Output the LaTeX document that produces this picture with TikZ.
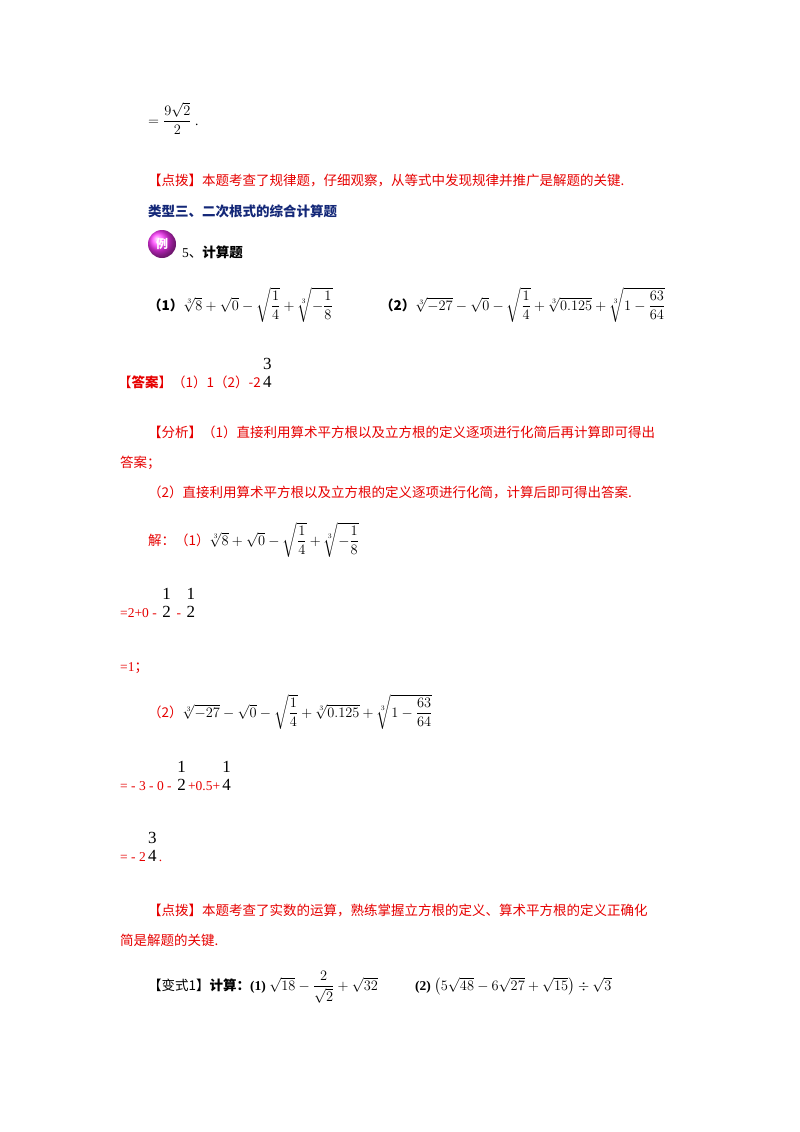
\documentclass[tikz,border=0pt]{standalone}
\usepackage{fontspec}
\usepackage{amsmath}
\setmainfont{Liberation Serif}
\newfontfamily\cjk{Noto Sans CJK SC}
\definecolor{myred}{RGB}{230,0,0}
\definecolor{myblue}{RGB}{20,40,120}
\newcommand{\bfr}[2]{\,\begin{tabular}[b]{@{}c@{}}\fontsize{17pt}{19pt}\selectfont #1\\[2pt]\fontsize{17pt}{17pt}\selectfont #2\end{tabular}\,}
\tikzset{t/.style={anchor=base west,inner sep=0pt,font=\fontsize{13.5pt}{15pt}\selectfont},
r/.style={t,text=myred}}
\begin{document}
\begin{tikzpicture}[x=1pt,y=1pt]
\useasboundingbox (0,0) rectangle (800,-1132);
\node[t] (a1) at (148,-125) {$=\dfrac{9\sqrt{2}}{2}$\ .};
\node[r] (a2) at (148,-185) {\cjk 【点拨】本题考查了规律题，仔细观察，从等式中发现规律并推广是解题的关键.};
\node[t,text=myblue] (a3) at (148,-216) {\cjk\bfseries 类型三、二次根式的综合计算题};
\shade[ball color=magenta!80] (162,-244) circle (14);
\node[text=white,font=\cjk\bfseries\fontsize{12pt}{12pt}\selectfont] (li) at (162,-244) {例};
\node[t] (a4) at (182,-257) {5\cjk 、\bfseries 计算题};
\node[t] (a5) at (148,-310) {\cjk\bfseries（1）$\sqrt[3]{8}+\sqrt{0}-\sqrt{\dfrac14}+\sqrt[3]{-\dfrac18}$};
\node[t] (a6) at (380,-310) {\cjk\bfseries（2）$\sqrt[3]{-27}-\sqrt{0}-\sqrt{\dfrac14}+\sqrt[3]{0.125}+\sqrt[3]{1-\dfrac{63}{64}}$};
\node[r] (a7) at (118,-387) {\cjk 【\bfseries 答案\mdseries 】（1）1（2）-2\color{black}\rmfamily\bfr{3}{4}};
\node[r] (a8) at (148,-437) {\cjk 【分析】（1）直接利用算术平方根以及立方根的定义逐项进行化简后再计算即可得出};
\node[r] (a9) at (120,-467) {\cjk 答案；};
\node[r] (a10) at (148,-497) {\cjk （2）直接利用算术平方根以及立方根的定义逐项进行化简，计算后即可得出答案.};
\node[r] (a11) at (148,-545) {\cjk 解：（1）\color{black}$\sqrt[3]{8}+\sqrt{0}-\sqrt{\dfrac14}+\sqrt[3]{-\dfrac18}$};
\node[r] (a12) at (120,-617) {=2+0 - \color{black}\bfr12\color{myred}\ - \color{black}\bfr12};
\node[r] (a13) at (120,-671) {=1\cjk ；};
\node[r] (a14) at (148,-717) {\cjk （2）\color{black}$\sqrt[3]{-27}-\sqrt{0}-\sqrt{\dfrac14}+\sqrt[3]{0.125}+\sqrt[3]{1-\dfrac{63}{64}}$};
\node[r] (a15) at (120,-790) {= - 3 - 0 - \color{black}\bfr12\color{myred}+0.5+\color{black}\bfr14};
\node[r] (a16) at (120,-861) {= - 2\color{black}\bfr34\color{myred}.};
\node[r] (a17) at (148,-915) {\cjk 【点拨】本题考查了实数的运算，熟练掌握立方根的定义、算术平方根的定义正确化};
\node[r] (a18) at (120,-945) {\cjk 简是解题的关键.};
\node[t] (a19) at (148,-990) {\cjk 【变式1】\bfseries 计算：\rmfamily (1)\ \mdseries$\sqrt{18}-\dfrac{2}{\sqrt2}+\sqrt{32}$};
\node[t] (a20) at (415,-990) {\bfseries (2)\ \mdseries$\left(5\sqrt{48}-6\sqrt{27}+\sqrt{15}\right)\div\sqrt3$};
\end{tikzpicture}
\end{document}
